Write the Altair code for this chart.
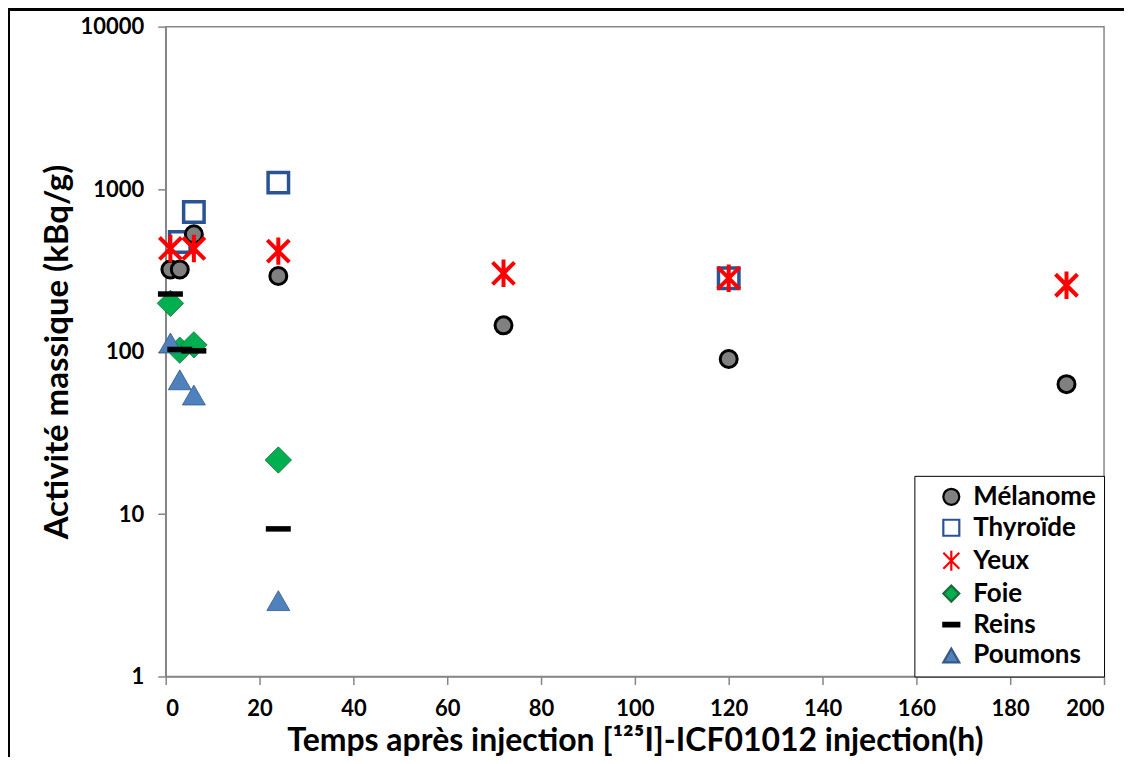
import altair as alt
import pandas as pd

series_order = ["Mélanome", "Thyroïde", "Yeux", "Foie", "Reins", "Poumons"]

melanome_h = [1, 3, 6, 24, 72, 120, 192]
melanome_v = [320, 320, 527, 292, 145, 90, 63]
thyroide_h = [3, 6, 24, 120]
thyroide_v = [473, 723, 1096, 283]
yeux_h = [1, 6, 24, 72, 120, 192]
yeux_v = [431, 431, 415, 303, 283, 256]
foie_h = [1, 3, 6, 24]
foie_v = [198, 102, 110, 21.5]
reins_h = [1, 3, 6, 24]
reins_v = [226, 103, 101, 8.1]
poumons_h = [1, 3, 6, 24]
poumons_v = [113, 67, 54, 2.93]

x_ticks = [0, 20, 40, 60, 80, 100, 120, 140, 160, 180, 200]
y_ticks = [1, 10, 100, 1000, 10000]

draw_order = [
    ("Thyroïde", thyroide_h, thyroide_v),
    ("Mélanome", melanome_h, melanome_v),
    ("Yeux", yeux_h, yeux_v),
    ("Foie", foie_h, foie_v),
    ("Poumons", poumons_h, poumons_v),
    ("Reins", reins_h, reins_v),
]
rows = []
for name, hs, vs in draw_order:
    for h, v in zip(hs, vs):
        rows.append({"serie": name, "temps": h, "activite": v})
df = pd.DataFrame(rows)

shapes = ["circle", "square", "M-1,-1L1,1M-1,1L1,-1M0,-1.25L0,1.25", "diamond",
          "M-1,-0.22H1V0.22H-1Z", "triangle-up"]
fills = ["#808080", "#ffffff00", "#ffffff00", "#00B050", "#000000", "#4F81BD"]
strokes = ["#000000", "#2A5394", "#FF0000", "#1E6B3A", "#000000", "#34598A"]
widths = [3, 3.5, 4, 0.8, 0, 0.8]
sizes = [289, 420, 484, 700, 625, 529]

# size / stroke-width scales use a reversed domain so they are not merged into
# (and do not disable) the shared legend
rev_domain = list(reversed(series_order))
size_range = list(reversed(sizes))
width_range = list(reversed(widths))


def leg():
    return alt.Legend(title=None, orient="bottom-right")


points = alt.Chart(df).mark_point(filled=True, opacity=1).encode(
    x=alt.X("temps:Q", scale=alt.Scale(domain=[0, 200], nice=False),
            axis=alt.Axis(values=x_ticks, title="Temps après injection [¹²⁵I]-ICF01012 injection(h)",
                          titlePadding=6, titleFontSize=32)),
    y=alt.Y("activite:Q", scale=alt.Scale(type="log", domain=[1, 10000], nice=False),
            axis=alt.Axis(values=y_ticks, format="d", title="Activité massique (kBq/g)",
                          titlePadding=6, titleFontSize=33)),
    shape=alt.Shape("serie:N", scale=alt.Scale(domain=series_order, range=shapes), legend=leg()),
    fill=alt.Fill("serie:N", scale=alt.Scale(domain=series_order, range=fills), legend=leg()),
    stroke=alt.Stroke("serie:N", scale=alt.Scale(domain=series_order, range=strokes), legend=leg()),
    strokeWidth=alt.StrokeWidth("serie:N", scale=alt.Scale(type="ordinal", domain=rev_domain,
                                                           range=width_range), legend=None),
    size=alt.Size("serie:N", scale=alt.Scale(type="ordinal", domain=rev_domain, range=size_range),
                  legend=None),
)

frame_v = alt.Chart(df).mark_rule(color="black", strokeWidth=2).encode(
    x=alt.value(-157), y=alt.value(-17), y2=alt.value(760))
frame_h = alt.Chart(df).mark_rule(color="black", strokeWidth=2).encode(
    x=alt.value(-158), x2=alt.value(970), y=alt.value(-17))

chart = alt.layer(frame_v, frame_h, points).properties(
    width=940, height=651,
    autosize=alt.AutoSizeParams(type="none"),
    padding={"left": 158, "top": 18, "right": 20, "bottom": 80},
).configure(
    font="Lato",
).configure_view(
    stroke="#868686", strokeWidth=1.5
).configure_axis(
    grid=False,
    domainColor="#868686", domainWidth=1.5,
    tickColor="#868686", tickWidth=1.5, tickSize=8,
    labelFont="Lato", labelFontWeight="bold", labelFontSize=22, labelColor="black",
    labelPadding=14,
    titleFont="Lato", titleFontWeight="bold", titleColor="black",
).configure_legend(
    offset=0,
    strokeColor="black", fillColor="white",
    padding=8, symbolSize=256, symbolOffset=16, symbolStrokeWidth=2.2,
    labelFont="Lato", labelFontWeight="bold", labelFontSize=26, labelColor="black",
    labelOffset=9, rowPadding=5,
)

chart.save("out.html", embed_options={"renderer": "svg", "actions": False})
